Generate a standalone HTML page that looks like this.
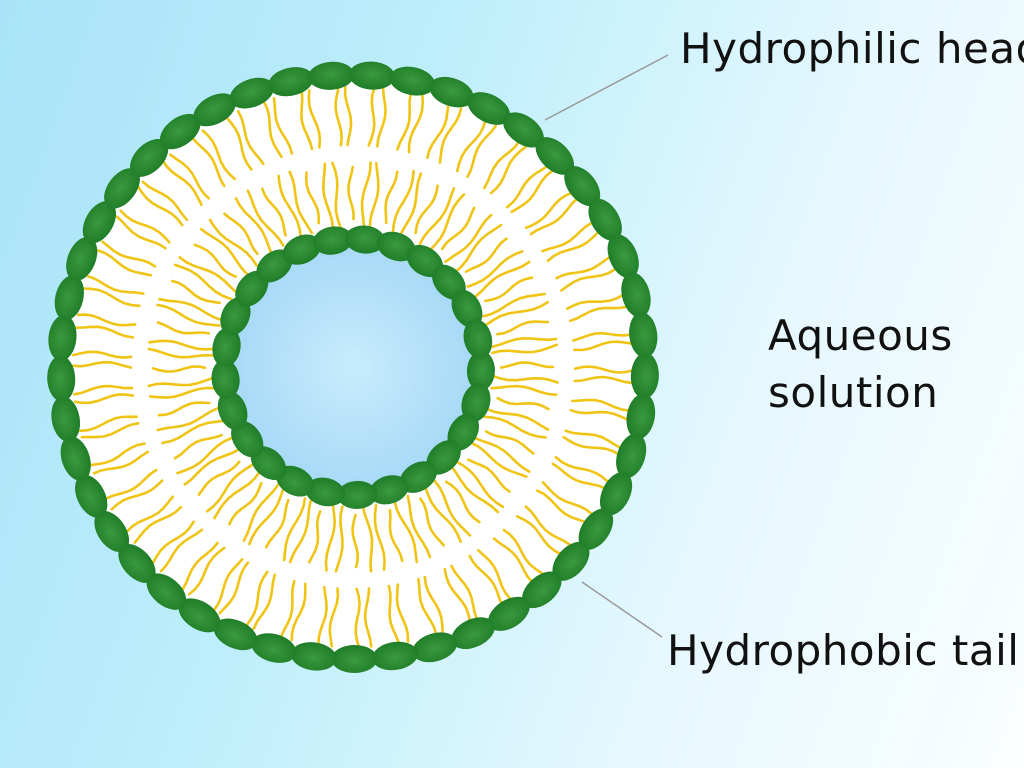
<!DOCTYPE html>
<html><head><meta charset="utf-8"><style>
html,body{margin:0;padding:0;width:1024px;height:768px;overflow:hidden}
body{background:linear-gradient(110deg,#a9e3f7 0%,#bdeefb 35%,#e6f8fe 70%,#fbfeff 100%)}
svg{position:absolute;left:0;top:0}
text{font-family:"DejaVu Sans","Liberation Sans",sans-serif;font-size:42px;fill:#111;letter-spacing:0.5px}
</style></head><body>
<svg id="s" width="1024" height="768" viewBox="0 0 1024 768">
<defs>
<radialGradient id="aq" cx="0.5" cy="0.5" r="0.5">
<stop offset="0" stop-color="#c8ecfc"/><stop offset="1" stop-color="#a8daf6"/></radialGradient>
<radialGradient id="hd" cx="0.5" cy="0.45" r="0.6">
<stop offset="0" stop-color="#3a9a3e"/><stop offset="1" stop-color="#1d7a26"/></radialGradient>
</defs>
<circle cx="353" cy="367" r="290" fill="#fff"/>
<g id="tails" stroke="#f0c414" stroke-width="2.6" fill="none" stroke-linecap="round"></g>
<circle cx="353" cy="367" r="120" fill="url(#aq)"/>
<g id="heads" fill="url(#hd)"></g>
<line x1="545" y1="120" x2="668" y2="55" stroke="#999" stroke-width="1.5"/>
<line x1="582" y1="582" x2="662" y2="637" stroke="#999" stroke-width="1.5"/>
<text x="680" y="63">Hydrophilic head</text>
<text x="768" y="350">Aqueous</text>
<text x="768" y="407">solution</text>
<text x="667" y="665">Hydrophobic tail</text>
</svg>
<script>
var cx=353,cy=367,NS="http://www.w3.org/2000/svg";
var H=document.getElementById("heads"),T=document.getElementById("tails");
function head(r,n,rx,ry){for(var i=0;i<n;i++){var a=i/n*2*Math.PI+0.03;var x=cx+r*Math.cos(a),y=cy+r*Math.sin(a);
var e=document.createElementNS(NS,"ellipse");e.setAttribute("cx",x);e.setAttribute("cy",y);e.setAttribute("rx",rx);e.setAttribute("ry",ry);
e.setAttribute("transform","rotate("+(a*180/Math.PI+90)+" "+x+" "+y+")");H.appendChild(e);}}
function tail(a,r1,r2,off,ph){var d="",steps=8;for(var k=0;k<=steps;k++){var t=k/steps;var r=r1+(r2-r1)*t;
var w=off+Math.sin(t*Math.PI*2+ph)*2.5;var x=cx+r*Math.cos(a)-w*Math.sin(a),y=cy+r*Math.sin(a)+w*Math.cos(a);
d+=(k?"L":"M")+x.toFixed(1)+" "+y.toFixed(1);}var p=document.createElementNS(NS,"path");p.setAttribute("d",d);T.appendChild(p);}
var n=46;for(var i=0;i<n;i++){var a=i/n*2*Math.PI+0.03;tail(a,280,222,-5,i);tail(a,280,222,5,i+1.5);}
var m=28;for(var i=0;i<m;i++){var a=i/m*2*Math.PI+0.1;tail(a,140,205,-5,i);tail(a,140,205,5,i+2);}
var m2=28;for(var i=0;i<m2;i++){var a=(i+0.5)/m2*2*Math.PI+0.1;tail(a,148,200,0,i);}
head(292,45,23,14);head(128,25,20,14);
</script>
</body></html>
